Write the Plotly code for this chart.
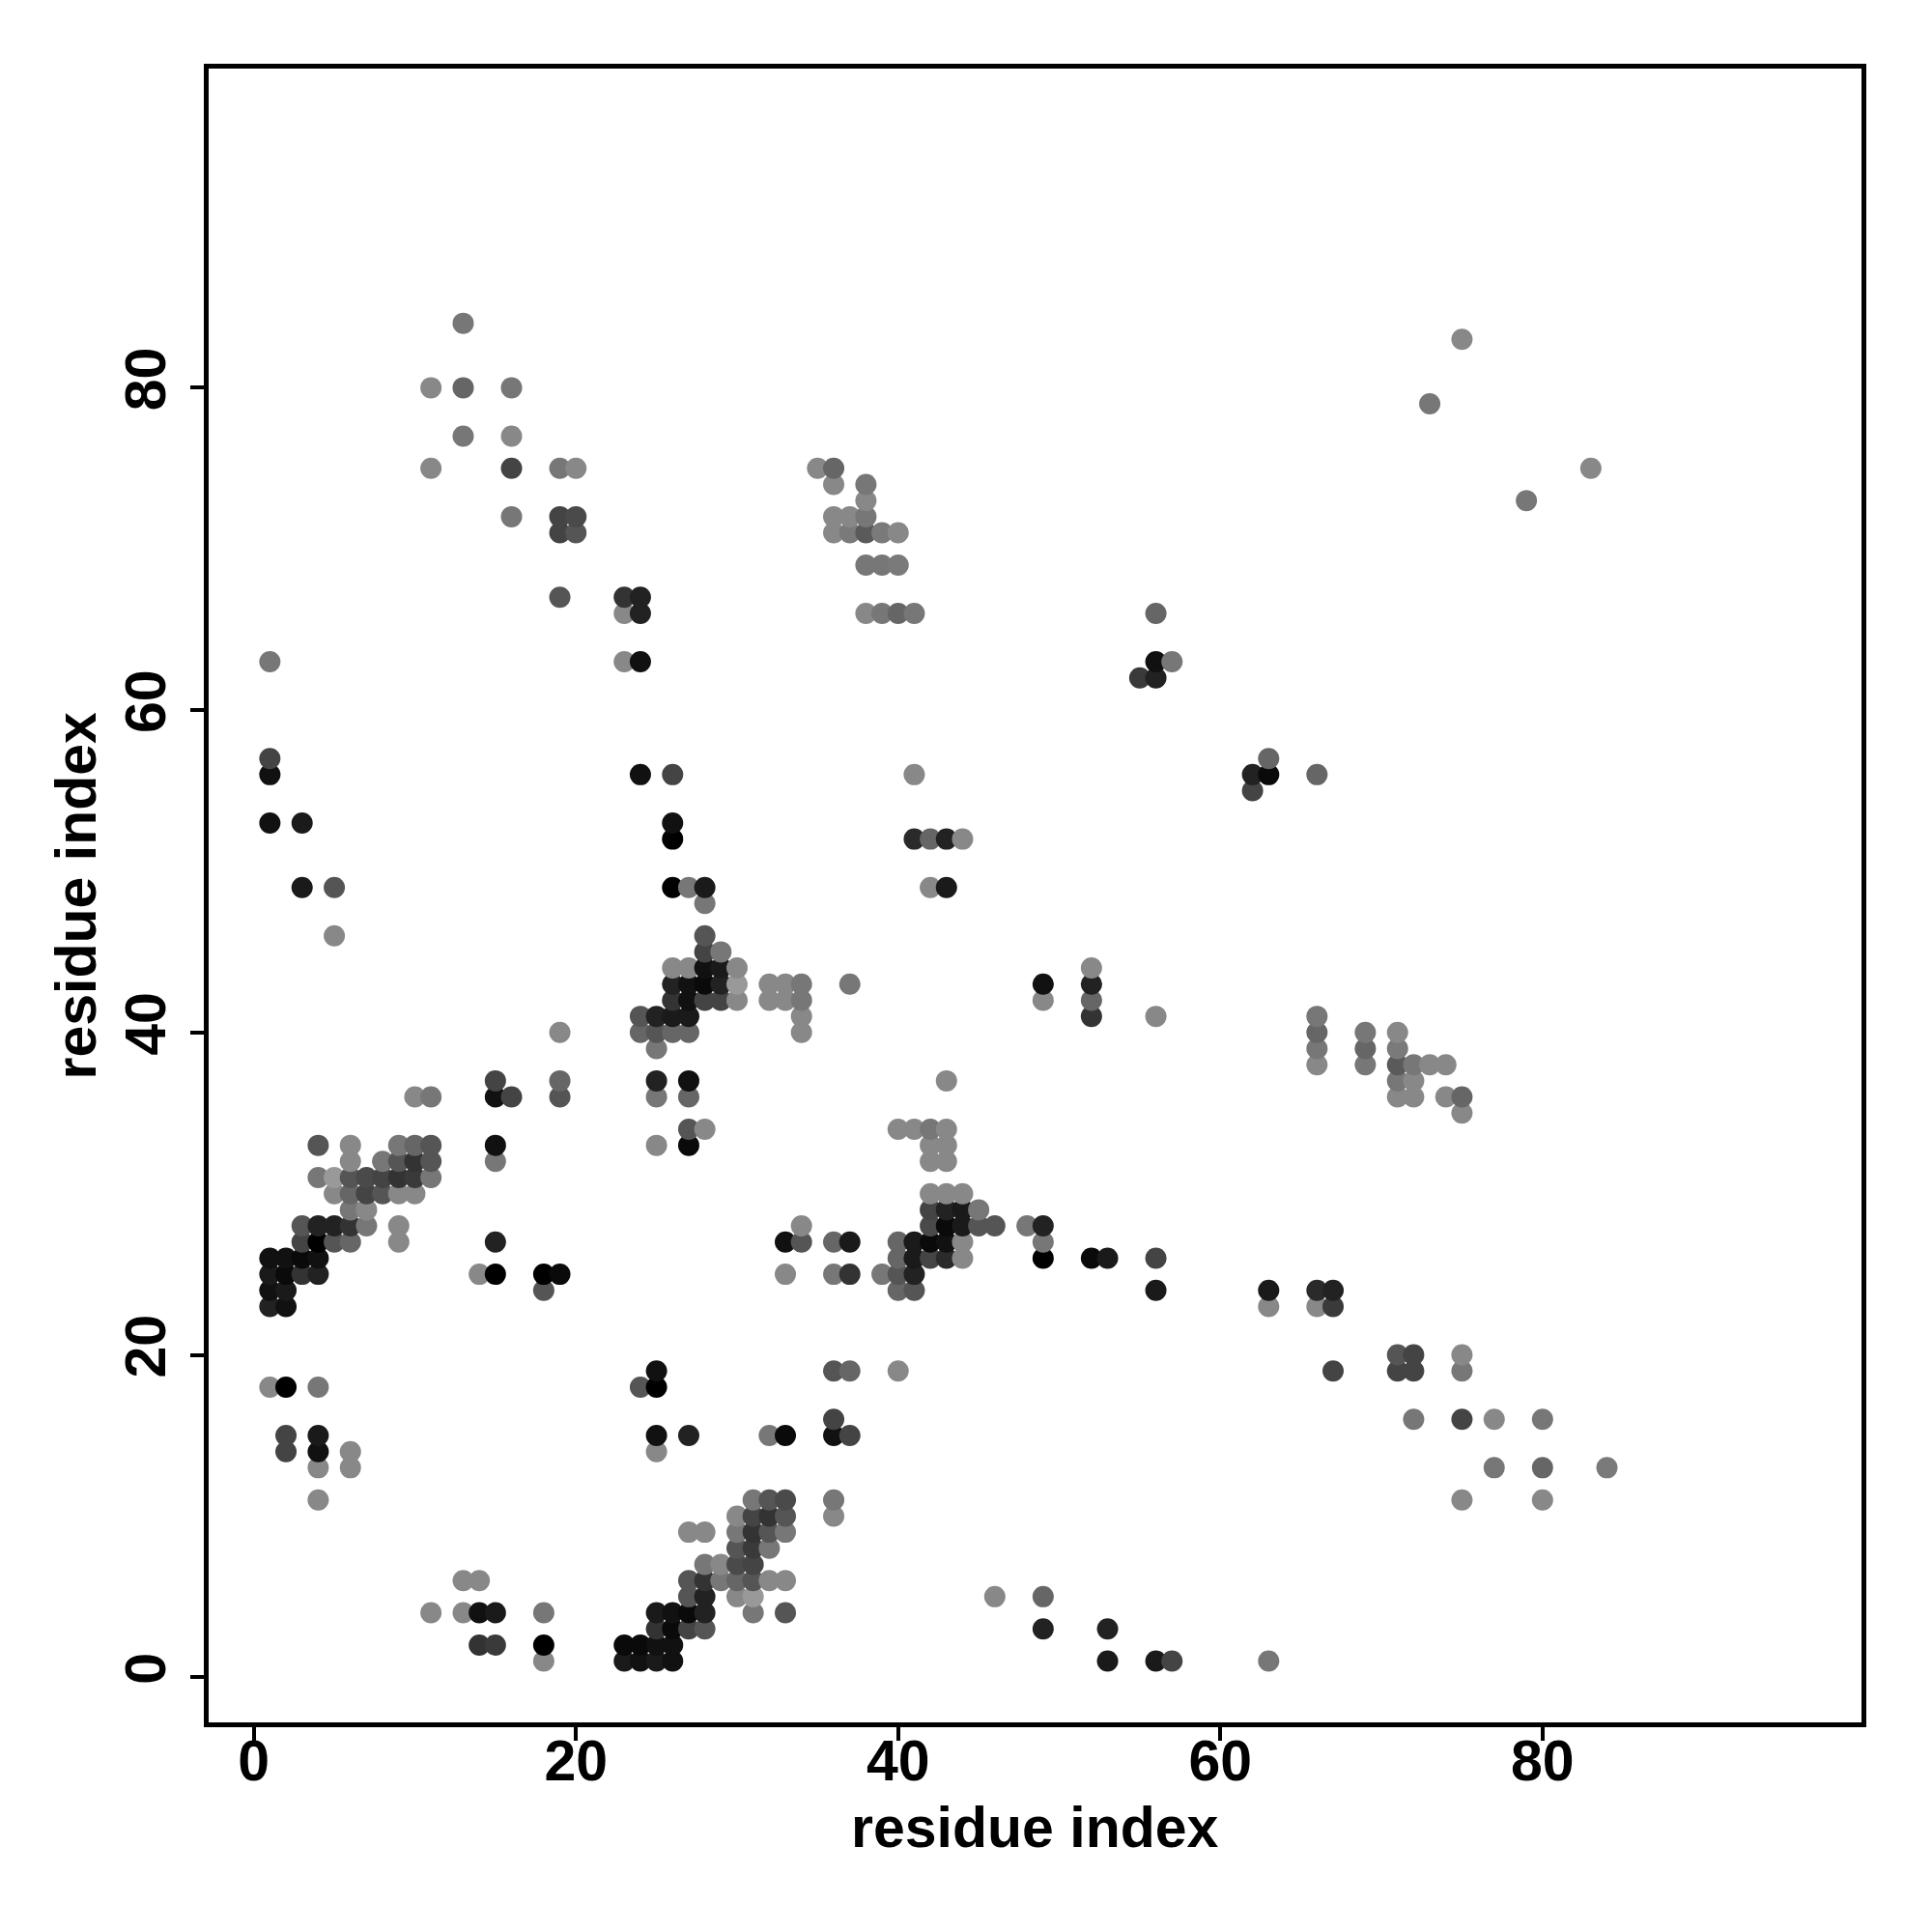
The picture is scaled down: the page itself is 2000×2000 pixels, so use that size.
import plotly.graph_objects as go

# contact map points: residue i (x), residue j (y), shade (0 = black ... 153 = light gray)
pts = [
    # y = 1..22
    (18,1,136),(23,1,26),(24,1,17),(25,1,26),(26,1,17),(53,1,26),(56,1,26),(57,1,68),(63,1,119),
    (14,2,51),(15,2,58),(18,2,0),(23,2,10),(24,2,10),(25,2,17),(26,2,17),
    (25,3,51),(26,3,10),(27,3,68),(28,3,85),(49,3,34),(53,3,34),
    (11,4,136),(13,4,136),(14,4,17),(15,4,26),(18,4,119),(25,4,26),(26,4,17),(27,4,10),(28,4,34),(31,4,119),(33,4,85),
    (27,5,85),(28,5,34),(30,5,136),(31,5,153),(46,5,136),(49,5,102),
    (13,6,136),(14,6,136),(27,6,85),(28,6,51),(29,6,119),(30,6,102),(31,6,85),(32,6,136),(33,6,136),
    (28,7,119),(29,7,136),(30,7,74),(31,7,68),
    (30,8,85),(31,8,58),(32,8,119),
    (27,9,136),(28,9,136),(30,9,119),(31,9,51),(32,9,85),(33,9,119),
    (30,10,136),(31,10,68),(32,10,51),(33,10,85),(36,10,136),
    (4,11,136),(31,11,119),(32,11,85),(33,11,74),(36,11,119),(75,11,136),(80,11,136),
    (4,13,136),(6,13,136),(77,13,119),(80,13,102),(84,13,122),
    (2,14,68),(4,14,17),(6,14,136),(25,14,136),
    (2,15,68),(4,15,26),(25,15,17),(27,15,34),(32,15,119),(33,15,10),(36,15,17),(37,15,68),
    (36,16,68),(72,16,119),(75,16,68),(77,16,136),(80,16,119),
    (1,18,136),(2,18,0),(4,18,119),(24,18,85),(25,18,0),
    (25,19,17),(36,19,85),(37,19,102),(40,19,136),(67,19,68),(71,19,68),(72,19,68),(75,19,119),
    (71,20,85),(72,20,68),(75,20,136),
    # y = 23..44
    (1,23,34),(2,23,17),(63,23,136),(66,23,136),(67,23,58),
    (1,24,17),(2,24,26),(18,24,85),(40,24,102),(41,24,85),(56,24,26),(63,24,26),(66,24,42),(67,24,34),
    (1,25,26),(2,25,10),(3,25,51),(4,25,34),(14,25,136),(15,25,0),(18,25,0),(19,25,10),(33,25,136),
    (36,25,119),(37,25,51),(39,25,119),(40,25,85),(41,25,34),
    (1,26,17),(2,26,17),(3,26,10),(4,26,17),(40,26,102),(41,26,26),(42,26,68),(43,26,42),(44,26,136),
    (49,26,0),(52,26,10),(53,26,26),(56,26,68),
    (3,27,68),(4,27,0),(5,27,85),(6,27,102),(9,27,136),(15,27,34),(33,27,17),(34,27,85),(36,27,102),
    (37,27,26),(40,27,102),(41,27,26),(42,27,10),(43,27,17),(44,27,136),(49,27,119),
    (3,28,85),(4,28,34),(5,28,34),(6,28,51),(7,28,119),(9,28,136),(34,28,136),(42,28,74),(43,28,10),
    (44,28,26),(45,28,85),(46,28,85),(48,28,119),(49,28,34),
    (6,29,119),(7,29,136),(42,29,68),(43,29,34),(44,29,26),(45,29,119),
    (5,30,136),(6,30,102),(7,30,68),(8,30,85),(9,30,136),(10,30,136),(42,30,136),(43,30,136),(44,30,136),
    (4,31,119),(5,31,153),(6,31,85),(7,31,74),(8,31,68),(9,31,51),(10,31,58),(11,31,119),
    (6,32,136),(8,32,119),(9,32,85),(10,32,51),(11,32,85),(15,32,119),(42,32,136),(43,32,136),
    (4,33,85),(6,33,136),(9,33,119),(10,33,102),(11,33,85),(15,33,17),(25,33,136),(27,33,10),(42,33,136),(43,33,136),
    (27,34,85),(28,34,136),(40,34,136),(41,34,136),(42,34,119),(43,34,136),
    (75,35,136),
    (10,36,136),(11,36,119),(15,36,17),(16,36,68),(19,36,85),(25,36,119),(27,36,102),(71,36,136),(72,36,136),(74,36,136),(75,36,102),
    (15,37,68),(19,37,102),(25,37,34),(27,37,17),(43,37,136),(71,37,119),(72,37,136),
    (66,38,136),(69,38,119),(71,38,90),(72,38,119),(73,38,136),(74,38,136),
    (25,39,119),(66,39,119),(69,39,102),(71,39,122),
    (19,40,136),(24,40,102),(25,40,85),(26,40,102),(27,40,102),(34,40,136),(66,40,102),(69,40,119),(71,40,136),
    (24,41,85),(25,41,34),(26,41,26),(27,41,26),(34,41,136),(52,41,51),(56,41,136),(66,41,119),
    (26,42,51),(27,42,17),(28,42,68),(29,42,68),(30,42,136),(32,42,136),(33,42,136),(34,42,119),(49,42,136),(52,42,102),
    (26,43,34),(27,43,17),(28,43,10),(29,43,34),(30,43,153),(32,43,136),(33,43,136),(34,43,119),(37,43,119),(49,43,17),(52,43,34),
    (26,44,136),(27,44,136),(28,44,17),(29,44,26),(30,44,136),(52,44,136),
    # y = 45..66
    (28,45,68),(29,45,119),
    (5,46,136),(28,46,85),
    (28,48,119),
    (3,49,26),(5,49,85),(26,49,0),(27,49,119),(28,49,26),(42,49,136),(43,49,26),
    (26,52,0),(41,52,42),(42,52,102),(43,52,34),(44,52,136),
    (1,53,17),(3,53,26),(26,53,17),
    (62,55,68),
    (1,56,17),(24,56,17),(26,56,68),(41,56,136),(62,56,34),(63,56,10),(66,56,102),
    (1,57,68),(63,57,102),
    (55,62,58),(56,62,34),
    (1,63,119),(23,63,136),(24,63,17),(56,63,17),(57,63,119),
    (23,66,136),(24,66,34),(38,66,136),(39,66,119),(40,66,102),(41,66,119),(56,66,102),
    # y = 67..88
    (19,67,85),(23,67,51),(24,67,34),
    (38,69,119),(39,69,119),(40,69,122),
    (19,71,68),(20,71,85),(36,71,136),(37,71,122),(38,71,90),(39,71,122),(40,71,136),
    (16,72,119),(19,72,68),(20,72,74),(36,72,136),(37,72,136),(38,72,119),
    (38,73,136),(79,73,119),
    (36,74,136),(38,74,119),
    (11,75,136),(16,75,68),(19,75,119),(20,75,136),(35,75,136),(36,75,102),(83,75,136),
    (13,77,119),(16,77,136),
    (73,79,119),
    (11,80,136),(13,80,102),(16,80,119),
    (75,83,136),
    (13,84,119),
]

residue_i = [p[0] for p in pts]
residue_j = [p[1] for p in pts]
shade = [p[2] for p in pts]

tick_vals = [0, 20, 40, 60, 80]
tick_text = ["0", "20", "40", "60", "80"]
axis_label = "residue index"

FONT = "Liberation Sans, Arial, Helvetica, sans-serif"

fig = go.Figure(
    go.Scatter(
        x=residue_i,
        y=residue_j,
        mode="markers",
        marker=dict(
            size=22,
            color=shade,
            cmin=0,
            cmax=153,
            colorscale=[[0, "rgb(0,0,0)"], [1, "rgb(153,153,153)"]],
            line=dict(width=0),
        ),
        hoverinfo="x+y",
    )
)

axis_common = dict(
    range=[-2.8, 99.8],
    tickvals=tick_vals,
    ticktext=tick_text,
    ticks="outside",
    ticklen=14,
    tickwidth=3.5,
    tickcolor="black",
    showline=True,
    linecolor="black",
    linewidth=5,
    mirror=True,
    showgrid=False,
    zeroline=False,
    automargin=False,
    tickfont=dict(family=FONT, size=59, color="black", weight="bold"),
)

fig.update_layout(
    width=1992,
    height=1992,
    margin=dict(l=208, r=73, t=63, b=217),
    paper_bgcolor="white",
    plot_bgcolor="white",
    showlegend=False,
    xaxis=dict(**axis_common, ticklabelstandoff=-30),
    yaxis=dict(**axis_common, tickangle=-90, ticklabelstandoff=2),
    annotations=[
        dict(text=axis_label, xref="paper", yref="paper", x=0.5, y=-0.0637,
             xanchor="center", yanchor="middle", showarrow=False,
             font=dict(family=FONT, size=59, color="black", weight="bold")),
        dict(text=axis_label, xref="paper", yref="paper", x=-0.0798, y=0.5,
             xanchor="center", yanchor="middle", textangle=-90, showarrow=False,
             font=dict(family=FONT, size=59, color="black", weight="bold")),
    ],
)

fig.write_html("out.html")
